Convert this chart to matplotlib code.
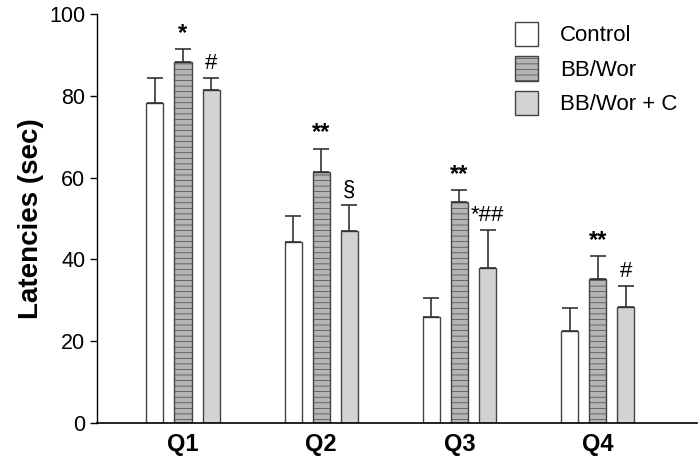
import matplotlib
matplotlib.use("Agg")
import matplotlib.pyplot as plt
import numpy as np

plt.rcParams['font.family'] = ['Liberation Sans', 'DejaVu Sans']
plt.rcParams['hatch.color'] = '#d6d6d6'
plt.rcParams['hatch.linewidth'] = 0.5

#DATA
quadrants = ['Q1', 'Q2', 'Q3', 'Q4']
groups = ['Control', 'BB/Wor', 'BB/Wor + C']
control = [78.2, 44.3, 26.0, 22.5]
control_err = [6.2, 6.3, 4.5, 5.6]
bbwor = [88.3, 61.3, 54.0, 35.2]
bbwor_err = [3.1, 5.8, 3.0, 5.7]
bbwor_c = [81.4, 47.0, 38.0, 28.3]
bbwor_c_err = [2.9, 6.4, 9.2, 5.1]
marks_bbwor = ['*', '**', '**', '**']
marks_bbwor_c = ['#', '\u00a7', '*##', '#']

#PLOT
fig = plt.figure(figsize=(7, 4.67), dpi=100)
ax = fig.add_axes([0.139, 0.094, 0.857, 0.876])

x = np.arange(len(quadrants))
w = 0.123
off = 0.203
styles = [dict(color='white', hatch=None),
          dict(color='#b5b5b5', hatch='---'),
          dict(color='#d3d3d3', hatch=None)]
series = [(control, control_err), (bbwor, bbwor_err), (bbwor_c, bbwor_c_err)]
for i, ((vals, errs), st, name) in enumerate(zip(series, styles, groups)):
    ax.bar(x + (i - 1) * off, vals, w, yerr=[np.zeros(len(errs)), errs],
           color=st['color'], hatch=st['hatch'], edgecolor='#444444', linewidth=1.0,
           error_kw=dict(ecolor='#333333', elinewidth=1.2, capsize=6, capthick=1.2),
           label=name, zorder=2)

#significance marks
for xi, v, e, m in zip(x, bbwor, bbwor_err, marks_bbwor):
    ax.text(xi, v + e + 1.0, m, ha='center', va='bottom', fontsize=17, fontweight='bold')
for xi, v, e, m in zip(x, bbwor_c, bbwor_c_err, marks_bbwor_c):
    ax.text(xi + off, v + e + 1.0, m, ha='center', va='bottom', fontsize=16)

ax.set_xlim(-0.62, 3.72)
ax.set_ylim(0, 100)
ax.set_yticks(np.arange(0, 101, 20))
ax.set_xticks(x)
ax.set_xticklabels(quadrants, fontsize=17, fontweight='bold')
ax.tick_params(axis='x', length=0, pad=7)
ax.tick_params(axis='y', labelsize=15.5, length=5, width=1)
ax.set_ylabel('Latencies (sec)', fontsize=20, fontweight='bold', labelpad=4)
for s in ['top', 'right']:
    ax.spines[s].set_visible(False)
ax.spines['left'].set_linewidth(1.0)
ax.spines['bottom'].set_linewidth(1.2)

ax.legend(loc='upper right', bbox_to_anchor=(1.0, 1.03), frameon=False, fontsize=16,
          handlelength=1.0, handleheight=1.3, handletextpad=1.0, labelspacing=0.45)

plt.savefig('out.png', dpi=100)
